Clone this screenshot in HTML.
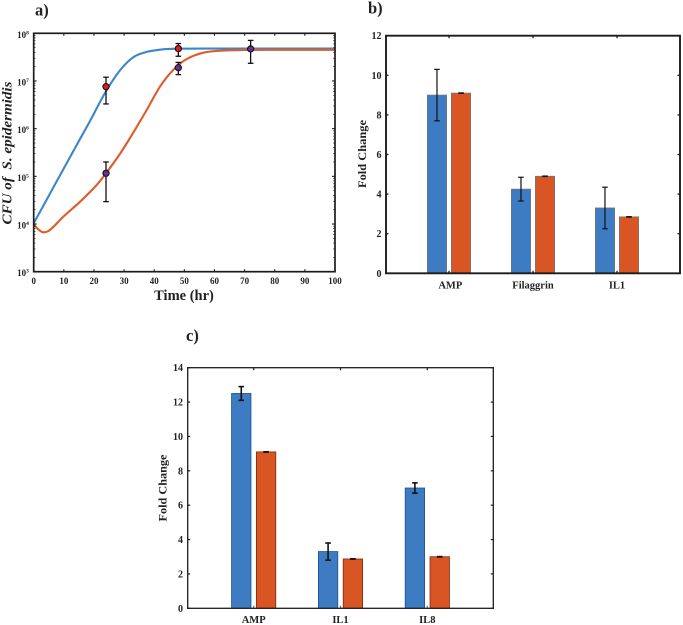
<!DOCTYPE html>
<html lang="en">
<head>
<meta charset="utf-8">
<title>S. epidermidis growth and fold change charts</title>
<style>
html,body{margin:0;padding:0;background:#fff;width:683px;height:625px;overflow:hidden}
svg{display:block;filter:blur(0.35px)}
text{font-family:"Liberation Serif",serif;font-weight:bold;fill:#222}
</style>
</head>
<body>
<svg id="figure" xmlns="http://www.w3.org/2000/svg" width="683" height="625" viewBox="0 0 683 625">
  <text x="35" y="15.5" font-size="16.5">a)</text>
  <text x="368" y="13.5" font-size="16.5">b)</text>
  <text x="186" y="341" font-size="16.5">c)</text>
  <text x="184" y="300" font-size="14.5" text-anchor="middle">Time (hr)</text>
  <text transform="translate(11.5,153) rotate(-90)" font-size="14" font-style="italic" text-anchor="middle" textLength="143" lengthAdjust="spacingAndGlyphs" xml:space="preserve">CFU of  S. epidermidis</text>
  <text transform="translate(366,154) rotate(-90)" font-size="11.5" text-anchor="middle" textLength="68" lengthAdjust="spacingAndGlyphs">Fold Change</text>
  <text transform="translate(166.5,488) rotate(-90)" font-size="11.5" text-anchor="middle" textLength="67" lengthAdjust="spacingAndGlyphs">Fold Change</text>
</svg>
<script>
// Panel a: growth curves, CFU
const blueTimes = [0, 5, 10, 15, 18.7, 23.8, 28.6, 33.1, 37.5, 43, 47.9, 60, 80, 100];
const blueCfu = [1.04e4, 3.9e4, 1.47e5, 5.5e5, 1.45e6, 5.8e6, 1.66e7, 3.16e7, 4.07e7, 4.61e7, 4.75e7, 4.78e7, 4.78e7, 4.78e7];
const orangeTimes = [0, 1.5, 3.2, 5.4, 9.8, 15.4, 20.9, 24, 28.6, 32.5, 37.5, 41.9, 46.3, 50.8, 56.3, 61.8, 70, 80, 100];
const orangeCfu = [1e4, 7.74e3, 6.7e3, 7.5e3, 1.42e4, 2.94e4, 6.58e4, 1.16e5, 2.94e5, 7.24e5, 2.46e6, 7.59e6, 1.7e7, 2.89e7, 3.92e7, 4.32e7, 4.47e7, 4.5e7, 4.5e7];
const redTimes = [24, 48];
const redCfu = [7.6e6, 4.77e7];
const redLow = [3.3e6, 3.3e7];
const redHigh = [1.2e7, 6.1e7];
const purpleTimes = [24, 48, 72];
const purpleCfu = [1.16e5, 1.9e7, 4.7e7];
const purpleLow = [2.95e4, 1.36e7, 2.35e7];
const purpleHigh = [2.0e5, 2.45e7, 7.1e7];
const aXTicks = [0, 10, 20, 30, 40, 50, 60, 70, 80, 90, 100];
const aYExponents = [3, 4, 5, 6, 7, 8];

// Panel b: fold change bars
const bCategories = ['AMP', 'Filaggrin', 'IL1'];
const bBlue = [9, 4.25, 3.3];
const bBlueLow = [7.7, 3.65, 2.25];
const bBlueHigh = [10.3, 4.85, 4.35];
const bOrange = [9.1, 4.9, 2.85];
const bOrangeLow = [9.08, 4.88, 2.83];
const bOrangeHigh = [9.12, 4.92, 2.87];
const bYTicks = [0, 2, 4, 6, 8, 10, 12];

// Panel c: fold change bars
const cCategories = ['AMP', 'IL1', 'IL8'];
const cBlue = [12.5, 3.3, 7];
const cBlueLow = [12.1, 2.8, 6.7];
const cBlueHigh = [12.9, 3.8, 7.3];
const cOrange = [9.1, 2.87, 3.0];
const cOrangeLow = [9.07, 2.84, 2.97];
const cOrangeHigh = [9.13, 2.9, 3.03];
const cYTicks = [0, 2, 4, 6, 8, 10, 12, 14];

const svg = document.getElementById('figure');
const NS = 'http://www.w3.org/2000/svg';
const INK = '#1c1c1c';
const BLUE_FILL = '#3d7cc3';
const ORANGE_FILL = '#d95624';

function mk(tag, attrs, parent) {
  const n = document.createElementNS(NS, tag);
  for (const k in attrs) n.setAttribute(k, attrs[k]);
  (parent || svg).appendChild(n);
  return n;
}
function linear(d0, d1, r0, r1) {
  return v => r0 + (v - d0) / (d1 - d0) * (r1 - r0);
}
function smoothPath(xs, ys) {
  // Hermite spline with tangents from neighbouring points, safe for uneven spacing
  const n = xs.length;
  const slope = i => {
    const a = Math.max(i - 1, 0), b = Math.min(i + 1, n - 1);
    return (ys[b] - ys[a]) / (xs[b] - xs[a]);
  };
  let d = 'M' + xs[0] + ' ' + ys[0];
  for (let i = 0; i < n - 1; i++) {
    const h = (xs[i + 1] - xs[i]) / 3;
    d += 'C' + (xs[i] + h) + ' ' + (ys[i] + slope(i) * h) + ' ' +
         (xs[i + 1] - h) + ' ' + (ys[i + 1] - slope(i + 1) * h) + ' ' + xs[i + 1] + ' ' + ys[i + 1];
  }
  return d;
}
function errorBar(x, yLow, yHigh, capHalf, width, parent) {
  const g = mk('g', {stroke: '#111', 'stroke-width': width, fill: 'none'}, parent);
  
  
  mk('line', {x1: x, x2: x, y1: yLow, y2: yHigh}, g);
  mk('line', {x1: x - capHalf, x2: x + capHalf, y1: yLow, y2: yLow}, g);
  mk('line', {x1: x - capHalf, x2: x + capHalf, y1: yHigh, y2: yHigh}, g);
  return g;
}

/* ---------- Panel a ---------- */
(function () {
  const L = 33.7, R = 335, T = 33.3, B = 271.7;
  const x = linear(0, 100, L, R);
  const y = v => linear(3, 8, B, T)(Math.log10(v));
  const yExp = linear(3, 8, B, T);
  const g = mk('g', {});
  
  

  const blue = mk('path', {d: smoothPath(blueTimes.map(x), blueCfu.map(y)), fill: 'none', stroke: '#3b86c8', 'stroke-width': 2.1}, g);
  
  
  const orange = mk('path', {d: smoothPath(orangeTimes.map(x), orangeCfu.map(y)), fill: 'none', stroke: '#dc5c2c', 'stroke-width': 2.1}, g);
  
  

  redTimes.forEach((t, i) => {
    errorBar(x(t), y(redLow[i]), y(redHigh[i]), 2.8, 1.3, g);
    const c = mk('circle', {cx: x(t), cy: y(redCfu[i]), r: 3.1, fill: '#f01414', stroke: '#111', 'stroke-width': 1.1}, g);
    
    
  });
  purpleTimes.forEach((t, i) => {
    errorBar(x(t), y(purpleLow[i]), y(purpleHigh[i]), 2.8, 1.3, g);
    const c = mk('circle', {cx: x(t), cy: y(purpleCfu[i]), r: 3.1, fill: '#6a2c9c', stroke: '#111', 'stroke-width': 1.1}, g);
    
    
  });

  aXTicks.forEach(t => {
    const b = mk('line', {x1: x(t), x2: x(t), y1: B, y2: B - 2.5, stroke: INK, 'stroke-width': 1.1}, g);
    
    
    const u = mk('line', {x1: x(t), x2: x(t), y1: T, y2: T + 2.5, stroke: INK, 'stroke-width': 1.1}, g);
    
    
    const label = mk('text', {x: x(t), y: 284, 'font-size': 9, 'text-anchor': 'middle'}, g);
    
    
    label.textContent = t;
  });
  aYExponents.forEach(e => {
    const yy = yExp(e);
    const t1 = mk('line', {x1: L, x2: L + 3, y1: yy, y2: yy, stroke: INK, 'stroke-width': 1.1}, g);
    
    
    const t2 = mk('line', {x1: R, x2: R - 3, y1: yy, y2: yy, stroke: INK, 'stroke-width': 1.1}, g);
    
    
    const label = mk('text', {x: 23, y: yy + 4.5, 'font-size': 9, 'text-anchor': 'middle'}, g);
    
    
    const base = mk('tspan', {}, label);
    base.textContent = '10';
    const sup = mk('tspan', {dy: -3.5, 'font-size': 5.5}, label);
    sup.textContent = e;
    if (e < 8) {
      for (let m = 2; m < 10; m++) {
        const my = y(m * Math.pow(10, e));
        const ml = mk('line', {x1: L, x2: L + 1.8, y1: my, y2: my, stroke: INK, 'stroke-width': 0.7}, g);
        
        
        const mr = mk('line', {x1: R, x2: R - 1.8, y1: my, y2: my, stroke: INK, 'stroke-width': 0.7}, g);
        
        
      }
    }
  });
  const frame = mk('rect', {x: L, y: T, width: R - L, height: B - T, fill: 'none', stroke: INK, 'stroke-width': 1.7}, g);
  
  
})();

/* ---------- Panel b ---------- */
(function () {
  const L = 386, R = 680, T = 35.7, B = 273.3;
  const x = linear(0.25, 3.75, L, R);
  const y = linear(0, 12, B, T);
  const offset = 0.143, barW = 19.2;
  const g = mk('g', {});
  
  

  bCategories.forEach((name, i) => {
    const cx = x(i + 1), xb = x(i + 1 - offset), xo = x(i + 1 + offset);
    const b1 = mk('rect', {x: xb - barW / 2, y: y(bBlue[i]), width: barW, height: B - y(bBlue[i]), fill: BLUE_FILL, stroke: '#777', 'stroke-width': 0.8}, g);
    
    
    const b2 = mk('rect', {x: xo - barW / 2, y: y(bOrange[i]), width: barW, height: B - y(bOrange[i]), fill: ORANGE_FILL, stroke: '#777', 'stroke-width': 0.8}, g);
    
    
    errorBar(xb, y(bBlueLow[i]), y(bBlueHigh[i]), 2.8, 1.2, g);
    errorBar(xo, y(bOrangeLow[i]), y(bOrangeHigh[i]), 2.8, 0.9, g);
    const t1 = mk('line', {x1: cx, x2: cx, y1: B, y2: B - 2.5, stroke: INK, 'stroke-width': 1.3}, g);
    
    
    const t2 = mk('line', {x1: cx, x2: cx, y1: T, y2: T + 2.5, stroke: INK, 'stroke-width': 1.3}, g);
    
    
    const label = mk('text', {x: cx + (i === 0 ? 1.3 : 0), y: 288.5, 'font-size': 10.5, 'text-anchor': 'middle'}, g);
    
    
    label.textContent = name;
  });
  bYTicks.forEach(v => {
    const t1 = mk('line', {x1: L, x2: L + 2.5, y1: y(v), y2: y(v), stroke: INK, 'stroke-width': 1.3}, g);
    
    
    const t2 = mk('line', {x1: R, x2: R - 2.5, y1: y(v), y2: y(v), stroke: INK, 'stroke-width': 1.3}, g);
    
    
    const label = mk('text', {x: 381.5, y: y(v) + 3.5, 'font-size': 10, 'text-anchor': 'end'}, g);
    
    
    label.textContent = v;
  });
  const frame = mk('rect', {x: L, y: T, width: R - L, height: B - T, fill: 'none', stroke: INK, 'stroke-width': 1.9}, g);
  
  
})();

/* ---------- Panel c ---------- */
(function () {
  const L = 187.7, R = 493.3, T = 367.7, B = 608.3;
  const x = linear(0.24, 3.76, L, R);
  const y = linear(0, 14, B, T);
  const offset = 0.143, barW = 19.4;
  const g = mk('g', {});
  
  

  cCategories.forEach((name, i) => {
    const cx = x(i + 1), xb = x(i + 1 - offset), xo = x(i + 1 + offset);
    const b1 = mk('rect', {x: xb - barW / 2, y: y(cBlue[i]), width: barW, height: B - y(cBlue[i]), fill: BLUE_FILL, stroke: '#1f4f8c', 'stroke-width': 0.8}, g);
    
    
    const b2 = mk('rect', {x: xo - barW / 2, y: y(cOrange[i]), width: barW, height: B - y(cOrange[i]), fill: ORANGE_FILL, stroke: '#7a2a10', 'stroke-width': 0.8}, g);
    
    
    errorBar(xb, y(cBlueLow[i]), y(cBlueHigh[i]), 2.8, 1.6, g);
    errorBar(xo, y(cOrangeLow[i]), y(cOrangeHigh[i]), 2.8, 0.9, g);
    const t1 = mk('line', {x1: cx, x2: cx, y1: B, y2: B - 2.5, stroke: '#666', 'stroke-width': 1.2}, g);
    
    
    const t2 = mk('line', {x1: cx, x2: cx, y1: T, y2: T + 2.5, stroke: INK, 'stroke-width': 1.2}, g);
    
    
    const label = mk('text', {x: cx, y: 623, 'font-size': 10.5, 'text-anchor': 'middle'}, g);
    
    
    label.textContent = name;
  });
  cYTicks.forEach(v => {
    const t1 = mk('line', {x1: L, x2: L + 2.5, y1: y(v), y2: y(v), stroke: INK, 'stroke-width': 1.2}, g);
    
    
    const t2 = mk('line', {x1: R, x2: R - 2.5, y1: y(v), y2: y(v), stroke: INK, 'stroke-width': 1.2}, g);
    
    
    const label = mk('text', {x: 183, y: y(v) + 3.5, 'font-size': 10, 'text-anchor': 'end'}, g);
    
    
    label.textContent = v;
  });
  const frame = mk('rect', {x: L, y: T, width: R - L, height: B - T, fill: 'none', stroke: INK, 'stroke-width': 1.3}, g);
  
  
})();
</script>
</body>
</html>
